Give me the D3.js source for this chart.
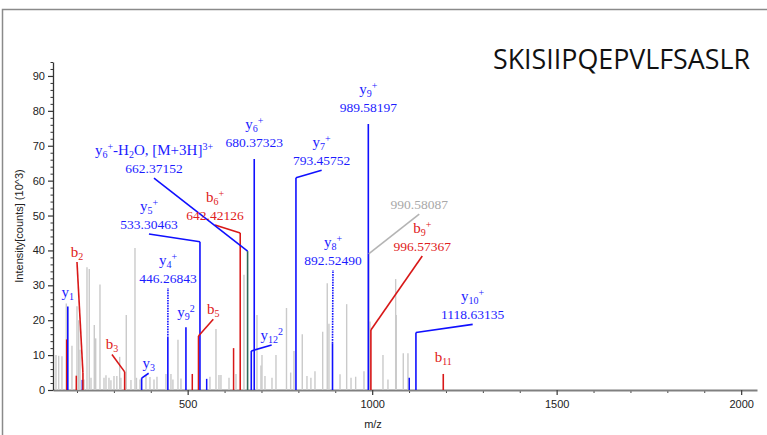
<!DOCTYPE html>
<html>
<head>
<meta charset="utf-8">
<script src="https://cdn.jsdelivr.net/npm/d3@7/dist/d3.min.js"></script>
<style>
  body { margin: 0; background: #fff; }
  svg { display: block; }
  .tick text { font-family: "Liberation Sans", Arial, sans-serif; font-size: 11px; fill: #222; }
  .lbl { font-family: "Liberation Serif", "Times New Roman", serif; font-size: 13.5px; }
</style>
</head>
<body>
<svg id="chart" width="767" height="435"></svg>
<script>
const TITLE = "SKISIIPQEPVLFSASLR";
const X_TICKS = [500, 1000, 1500, 2000];
const Y_TICKS = [0, 10, 20, 30, 40, 50, 60, 70, 80, 90];

// unassigned peaks
const grayMz = [143.1, 150.4, 159.3, 171.0, 186.4, 200.0, 204.6, 208.1, 219.0, 227.1, 233.3, 238.0, 246.9, 250.7, 262.3, 273.2, 278.6, 286.7, 292.0, 300.3, 308.0, 315.7, 319.0, 333.6, 346.3, 357.2, 361.2, 370.7, 387.0, 397.8, 408.7, 416.8, 441.2, 454.7, 460.0, 473.7, 481.8, 560.4, 576.7, 584.8, 590.2, 612.0, 630.9, 652.6, 687.8, 698.6, 701.4, 709.5, 728.5, 739.3, 767.8, 779.1, 788.1, 810.6, 823.3, 834.0, 845.0, 865.9, 878.3, 882.9, 912.9, 930.9, 942.7, 955.3, 977.8, 994.1, 1029.3, 1042.8, 1063.7, 1065.3, 1084.3, 1097.0];
const grayInt = [10, 9.8, 9.7, 24.8, 12.7, 24.0, 20, 11.5, 3, 35.2, 34.7, 3.5, 18.6, 14.8, 30.2, 3.5, 4.2, 3.5, 2.8, 4, 4, 9.5, 3.5, 21.5, 2.9, 40.7, 3.5, 3, 4, 3.7, 3, 3.8, 4.6, 4.6, 3, 14.4, 3.3, 3.8, 17.5, 4.3, 4.3, 3.5, 4.6, 33, 21.5, 7, 10, 4, 3.5, 10, 23.5, 5, 11.2, 16, 4, 3.5, 5.4, 16.7, 30.6, 19, 4.5, 24.6, 3.5, 3.8, 5.4, 19.6, 10, 3, 31.8, 21.5, 10.5, 10.5];

// small matched peaks without a label
const blueMz = [214.4, 551.5, 1100.5];
const blueInt = [2.9, 3.2, 3.5];
const redMz = [172.1, 198.1, 512.5, 624.4];
const redInt = [14.5, 4.1, 4.6, 12];

// labelled peaks
const annName = ["y_{1}", "b_{2}", "b_{3}", "y_{3}", "y_{4}^{+}", "y_{9}^{2}", "b_{5}", "y_{5}^{+}", "b_{6}^{+}",
  "y_{6}^{+}-H_{2}O, [M+3H]^{3+}", "y_{6}^{+}", "y_{12}^{2}", "y_{7}^{+}", "y_{8}^{+}", "y_{9}^{+}", "", "b_{9}^{+}", "y_{10}^{+}", "b_{11}"];
const annMz = [175.119, 216.134, 329.218, 375.235, 446.26843, 495.294, 529.334, 533.30463, 642.42126,
  662.37152, 680.37323, 672.372, 793.45752, 892.52490, 989.58197, 990.58087, 996.57367, 1118.63135, 1192.703];
const annInt = [23.9, 4.9, 5.2, 3.4, 14.9, 18, 15.5, 42.5, 45, 39.8, 66.2, 11.2, 60.8, 13.4, 76.2, 39, 17.2, 16.5, 4.6];
const annValue = ["", "", "", "", "446.26843", "", "", "533.30463", "642.42126", "662.37152", "680.37323", "",
  "793.45752", "892.52490", "989.58197", "990.58087", "996.57367", "1118.63135", ""];
const annType = ["y", "b", "b", "y", "y", "y", "b", "y", "b", "y", "y", "y", "y", "y", "y", "o", "b", "y", "b"];

// where each label's leader line ends (m/z, intensity); null = label sits right over the peak
const LABEL_ANCHOR = [null, [200.0, 36.7], [294.8, 10.2], [394.3, 4.8], [446.6, 29.2], null, [569.4, 20.3],
  [395.1, 44.7], [574.0, 47.3], [408.7, 60.7], null, [727.6, 12.9], [863.1, 63.0], [893.8, 34.4], null,
  [1127.6, 50.4], [1135.8, 38.4], [1272.4, 18.8], null];
const DIRECT_GAP = [10, 0, 0, 0, 0, 10, 0, 0, 0, 0, 12, 0, 0, 0, 12, 0, 0, 0, 12];

const LINE = { y: "#1010ff", b: "#d81818", o: "#b4b4b4", g: "#cacaca" };
const TEXT = { y: "#1c1cff", b: "#e02020", o: "#a8a8a8" };

const svg = d3.select("#chart");

const x = d3.scaleLinear().domain([135, 2043]).range([53, 757]);
const y = d3.scaleLinear().domain([0, 94]).range([390, 62]);

// frame
svg.append("path")
  .attr("d", "M2.5,435V9.5H767")
  .attr("fill", "none")
  .attr("stroke", "#8a8a8a")
  .attr("stroke-width", 1.5);

svg.append("text")
  .attr("x", 493).attr("y", 69)
  .attr("textLength", 257).attr("lengthAdjust", "spacingAndGlyphs")
  .style("font-family", "'Open Sans', sans-serif")
  .style("font-size", "27px")
  .style("fill", "#111")
  .text(TITLE);

// axes
const xMinor = d3.range(200, 2001, 100).filter(v => !X_TICKS.includes(v));
svg.append("g")
  .attr("transform", "translate(0,390)")
  .call(d3.axisBottom(x).tickValues(xMinor).tickSize(3).tickSizeOuter(0).tickFormat(""))
  .call(g => g.select(".domain").remove())
  .call(g => g.selectAll("line").attr("stroke", "#444"));
svg.append("g")
  .attr("transform", "translate(0,390)")
  .call(d3.axisBottom(x).tickValues(X_TICKS).tickSize(5).tickPadding(5).tickSizeOuter(0).tickFormat(d3.format("d")))
  .call(g => g.select(".domain").attr("stroke", "#808080").attr("stroke-width", 2))
  .call(g => g.selectAll("line").attr("stroke", "#444").attr("stroke-width", 1.3));

const yMinor = d3.range(0, 95, 2).filter(v => !Y_TICKS.includes(v));
svg.append("g")
  .attr("transform", "translate(53,0)")
  .call(d3.axisLeft(y).tickValues(yMinor).tickSize(2.5).tickSizeOuter(0).tickFormat(""))
  .call(g => g.select(".domain").remove())
  .call(g => g.selectAll("line").attr("stroke", "#333"));
svg.append("g")
  .attr("transform", "translate(53,0)")
  .call(d3.axisLeft(y).tickValues(Y_TICKS).tickSize(5).tickPadding(3).tickSizeOuter(0))
  .call(g => g.select(".domain").attr("stroke", "#333").attr("stroke-width", 1.3))
  .call(g => g.selectAll("line").attr("stroke", "#333").attr("stroke-width", 1.2));

svg.append("text")
  .attr("transform", "translate(23,226) rotate(-90)")
  .attr("text-anchor", "middle")
  .style("font-family", "'Liberation Sans', Arial, sans-serif")
  .style("font-size", "11px")
  .style("fill", "#222")
  .text("Intensity[counts] (10^3)");

svg.append("text")
  .attr("x", 373).attr("y", 428)
  .attr("text-anchor", "middle")
  .style("font-family", "'Liberation Sans', Arial, sans-serif")
  .style("font-size", "11px")
  .style("fill", "#222")
  .text("m/z");

// peaks
function drawPeaks(mzs, ints, color, width) {
  svg.append("g")
    .selectAll("line")
    .data(mzs.map((m, i) => ({ m, v: ints[i] })))
    .join("line")
    .attr("x1", d => x(d.m)).attr("x2", d => x(d.m))
    .attr("y1", y(0)).attr("y2", d => y(d.v))
    .attr("stroke", color)
    .attr("stroke-width", width);
}

drawPeaks(grayMz, grayInt, LINE.g, 1.4);
drawPeaks(annMz.filter((m, i) => annType[i] === "o"), annInt.filter((v, i) => annType[i] === "o"), LINE.o, 1.5);
drawPeaks(redMz, redInt, LINE.b, 1.5);
drawPeaks(blueMz, blueInt, LINE.y, 1.5);

const ann = annMz.map((m, i) => ({
  i, m, v: annInt[i], name: annName[i], value: annValue[i], type: annType[i],
  anchor: LABEL_ANCHOR[i], gap: DIRECT_GAP[i]
}));

const annG = svg.append("g");
ann.filter(d => d.type !== "o").forEach(d => {
  annG.append("line")
    .attr("x1", x(d.m)).attr("x2", x(d.m))
    .attr("y1", y(0)).attr("y2", y(d.v))
    .attr("stroke", d.i === 9 ? "#2f6a58" : LINE[d.type])
    .attr("stroke-width", 1.6);
});

// leader lines
ann.filter(d => d.anchor).forEach(d => {
  const x1 = x(d.m), y1 = y(d.v), x2 = x(d.anchor[0]), y2 = y(d.anchor[1]);
  annG.append("line")
    .attr("x1", x1).attr("y1", y1).attr("x2", x2).attr("y2", y2)
    .attr("stroke", LINE[d.type])
    .attr("stroke-width", 1.6)
    .attr("stroke-dasharray", Math.abs(x2 - x1) < 2 ? "1.6,1" : null);
});

// sub/superscript markup: _{..} and ^{..}
function parseName(s) {
  const out = [];
  const re = /([_^])\{([^}]*)\}|([^_^]+)/g;
  let mt;
  while ((mt = re.exec(s))) {
    if (mt[1]) out.push({ t: mt[2], k: mt[1] === "_" ? "sub" : "sup" });
    else out.push({ t: mt[3], k: "" });
  }
  return out;
}

const SHIFT = { "": 0, sub: 3, sup: -5 };

ann.forEach(d => {
  const px = d.anchor ? x(d.anchor[0]) : x(d.m);
  const base = d.anchor ? y(d.anchor[1]) - 5 : y(d.v) - d.gap;
  let nameBase = base;
  if (d.value) {
    annG.append("text").attr("class", "lbl")
      .attr("x", px).attr("y", base)
      .attr("text-anchor", "middle")
      .style("fill", TEXT[d.type])
      .text(d.value);
    nameBase = base - 18;
  }
  if (d.name) {
    const t = annG.append("text").attr("class", "lbl")
      .attr("x", px).attr("y", nameBase)
      .attr("text-anchor", "middle")
      .style("fill", TEXT[d.type])
      .style("font-size", "15px");
    let cur = 0;
    parseName(d.name).forEach(p => {
      const target = SHIFT[p.k];
      t.append("tspan")
        .attr("dy", target - cur)
        .style("font-size", p.k ? "10px" : "15px")
        .text(p.t);
      cur = target;
    });
  }
});
</script>
</body>
</html>
